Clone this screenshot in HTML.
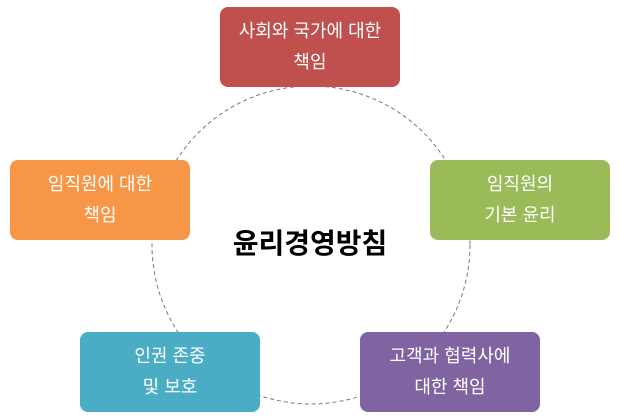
<!DOCTYPE html>
<html><head><meta charset="utf-8"><style>
body{margin:0;width:620px;height:420px;background:#fff;position:relative;overflow:hidden;font-family:"Liberation Sans","Noto Sans CJK KR",sans-serif}
.b{position:absolute;width:180px;height:80px;border-radius:8px;color:#fff;font-size:18px;line-height:31px;display:flex;align-items:center;justify-content:center;text-align:center}
svg{position:absolute;left:0;top:0}
.t{position:absolute;left:160px;width:300px;top:226px;text-align:center;font-size:28px;font-weight:bold;color:#000;line-height:36px}
</style></head><body>
<svg width="620" height="420"><circle cx="311" cy="245" r="159" fill="none" stroke="#777" stroke-width="1" stroke-dasharray="4,3"/></svg>
<div class="t">윤리경영방침</div>
<div class="b" style="left:220px;top:7px;background:#c0504d">사회와 국가에 대한<br>책임</div>
<div class="b" style="left:10px;top:160px;background:#f79646">임직원에 대한<br>책임</div>
<div class="b" style="left:430px;top:160px;background:#9bbb59">임직원의<br>기본 윤리</div>
<div class="b" style="left:80px;top:332px;background:#4bacc6">인권 존중<br>및 보호</div>
<div class="b" style="left:360px;top:332px;background:#8064a2">고객과 협력사에<br>대한 책임</div>
</body></html>
